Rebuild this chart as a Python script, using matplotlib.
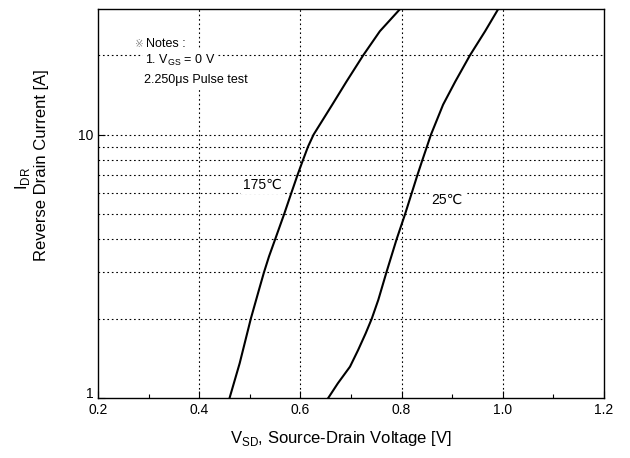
import matplotlib
matplotlib.use("Agg")
import matplotlib.pyplot as plt
import matplotlib.transforms as mtrans
from matplotlib.ticker import FixedLocator, NullFormatter, FixedFormatter

plt.rcParams['font.family'] = ['Liberation Sans', 'DejaVu Sans']
plt.rcParams['mathtext.fontset'] = 'custom'
plt.rcParams['mathtext.rm'] = 'Liberation Sans'

# reverse drain current [A] vs source-drain voltage [V]
i_175 = [1, 1.355, 2, 2.57, 3, 3.45, 4, 5, 6, 7, 8, 9, 10, 13, 15.9, 20, 24.7, 30]
v_175 = [0.460, 0.480, 0.502, 0.518, 0.528, 0.538, 0.550, 0.568, 0.582, 0.594,
         0.605, 0.615, 0.626, 0.663, 0.691, 0.724, 0.757, 0.797]
i_25 = [1, 1.137, 1.315, 1.52, 1.76, 2, 2.36, 3, 4, 5, 6, 7, 8, 9, 10, 13, 15.9, 20, 24.7, 30]
v_25 = [0.655, 0.674, 0.698, 0.714, 0.729, 0.741, 0.754, 0.770, 0.790, 0.807, 0.820,
        0.831, 0.841, 0.850, 0.858, 0.882, 0.906, 0.935, 0.965, 0.991]

x_ticks = [0.2, 0.4, 0.6, 0.8, 1.0, 1.2]
x_labels = ['0.2', '0.4', '0.6', '0.8', '1.0', '1.2']
x_minor = [0.3, 0.5, 0.7, 0.9, 1.1]
y_grid = [2, 3, 4, 5, 6, 7, 8, 9, 10, 20]

fig = plt.figure(figsize=(6.3, 4.58), dpi=100)
ax = fig.add_axes([98 / 630, 60 / 458, 506 / 630, 389 / 458])

ax.plot(v_175, i_175, color='black', lw=1.5)
ax.plot(v_25, i_25, color='black', lw=1.5)

ax.set_yscale('log')
ax.set_xlim(0.2, 1.2)
ax.set_ylim(1, 30)

ax.xaxis.set_major_locator(FixedLocator(x_ticks))
ax.xaxis.set_major_formatter(FixedFormatter(x_labels))
ax.xaxis.set_minor_locator(FixedLocator(x_minor))
ax.yaxis.set_major_locator(FixedLocator([1, 10]))
ax.yaxis.set_major_formatter(FixedFormatter(['1', '10']))
ax.yaxis.set_minor_locator(FixedLocator([]))
ax.yaxis.set_minor_formatter(NullFormatter())

ax.tick_params(which='major', direction='in', length=5, width=0.8, labelsize=10, colors='black')
ax.tick_params(which='minor', direction='in', length=3, width=0.8)

# lift the "1" label so it clears "0.2"
lbl = ax.get_yticklabels()[0]
lbl.set_transform(lbl.get_transform() + mtrans.ScaledTranslation(0, 4 / 72, fig.dpi_scale_trans))

gs = (0, (1.5, 2.5))
for v in [0.4, 0.6, 0.8, 1.0]:
    ax.axvline(v, color='black', lw=0.8, ls=gs, zorder=0)
for y in y_grid:
    ax.axhline(y, color='black', lw=0.8, ls=gs, zorder=0)

for s in ax.spines.values():
    s.set_linewidth(1.0)

bb = dict(facecolor='white', edgecolor='none', pad=1.5)
ax.text(0.073, 0.910, '\u203b', transform=ax.transAxes, fontsize=7.5, color='#888888',
        va='center', ha='left', bbox=bb)
ax.text(0.095, 0.910, 'Notes :', transform=ax.transAxes, fontsize=9,
        va='center', ha='left', bbox=bb)
ax.text(0.093, 0.869, r'1. V$_{\mathregular{GS}}$ = 0 V', transform=ax.transAxes,
        fontsize=9, va='center', ha='left', bbox=bb)
ax.text(0.091, 0.817, '2.250\u03bcs Pulse test', transform=ax.transAxes,
        fontsize=9, va='center', ha='left', bbox=bb)

ax.text(0.525, 6.45, '175\u2103', fontsize=10, ha='center', va='center', bbox=bb)
ax.text(0.890, 5.66, '25\u2103', fontsize=10, ha='center', va='center', bbox=bb)

fig.text(341 / 630, 1 - 443 / 458, r'V$_{\mathregular{SD}}$, Source-Drain Voltage [V]',
         fontsize=12, ha='center', va='baseline')
fig.text(22 / 630, 1 - 178 / 458, r'I$_{\mathregular{DR}}$', fontsize=12,
         rotation=90, ha='center', va='center')
fig.text(42 / 630, 1 - 165 / 458, 'Reverse Drain Current [A]', fontsize=12,
         rotation=90, ha='center', va='center')

fig.savefig('out.png', dpi=100)
